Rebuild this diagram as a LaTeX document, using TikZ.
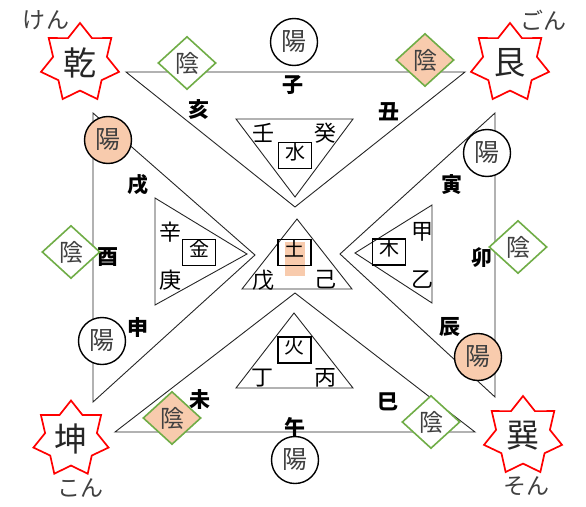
\documentclass[tikz,border=0pt]{standalone}
\usepackage{fontspec}
\setmainfont{Noto Sans CJK JP}
\usetikzlibrary{shapes.geometric}
\definecolor{peach}{HTML}{F8CBAD}
\definecolor{grn}{HTML}{70AD47}
\definecolor{txtgray}{HTML}{404040}
\tikzset{
  tri/.style={draw=black!85, line width=0.9pt, line join=miter},
  yang/.style={circle, draw=black, line width=1.4pt, minimum size=47pt, inner sep=0pt, fill=white, font=\fontsize{25}{25}\selectfont, text=txtgray},
  yin/.style={diamond, draw=grn, line width=1.6pt, minimum width=58pt, minimum height=53pt, inner sep=-3pt, fill=white, font=\fontsize{24}{24}\selectfont, text=txtgray},
  trig/.style={star, star points=7, star point ratio=1.45, draw=red, line width=1.7pt, fill=white, minimum size=80pt, inner sep=-3pt, font=\fontsize{33}{33}\selectfont, text=black!85},
  branch/.style={font=\bfseries\fontsize{21}{21}\selectfont, inner sep=0pt},
  stem/.style={font=\fontsize{22}{22}\selectfont, inner sep=0pt},
  elem/.style={draw=black, line width=1.2pt, minimum width=33pt, minimum height=26pt, inner sep=0pt, text height=0.86em, text depth=0.1em, font=\fontsize{20}{20}\selectfont},
  kana/.style={font=\fontsize{23}{23}\selectfont, text=txtgray, inner sep=0pt}
}
\begin{document}
\begin{tikzpicture}[x=1pt,y=-1pt]
\useasboundingbox (0,0) rectangle (586,506);
% big triangles
\draw[tri] (126,72) -- (465,72) -- (295,207) -- cycle;
\draw[tri] (115,432) -- (475,432) -- (295,293) -- cycle;
\draw[tri] (93,113) -- (93,402) -- (255,255) -- cycle;
\draw[tri] (495,113) -- (495,397) -- (340,254) -- cycle;
% inner triangles
\draw[tri] (236,119) -- (353,119) -- (295,197) -- cycle;
\draw[tri] (297,219) -- (242,289) -- (352,289) -- cycle;
\draw[tri] (294,313) -- (236,388) -- (353,388) -- cycle;
\draw[tri] (155,198) -- (155,305) -- (247,254) -- cycle;
\draw[tri] (432,205) -- (432,303) -- (355,253) -- cycle;
% earth highlight
\fill[peach] (285,242) rectangle (305,276);
% element boxes
\node[elem] (water) at (295,155.5) {水};
\node[elem] (metal) at (199,252.5) {金};
\node[elem] (earth) at (294.5,252.5) {土};
\node[elem] (wood)  at (389,252) {木};
\node[elem] (fire)  at (294.5,350) {火};
% stems
\node[stem] (ren)  at (263,133) {壬};
\node[stem] (gui)  at (325,133) {癸};
\node[stem] (xin)  at (170,232) {辛};
\node[stem] (geng) at (170,280) {庚};
\node[stem] (jia)  at (422,232) {甲};
\node[stem] (yi)   at (422,280) {乙};
\node[stem] (wu)   at (263,280) {戊};
\node[stem] (ji)   at (325,280) {己};
\node[stem] (ding) at (262,378) {丁};
\node[stem] (bing) at (325,378) {丙};
% branches
\node[branch] (zi)   at (293,85)  {子};
\node[branch] (hai)  at (199,110) {亥};
\node[branch] (chou) at (389,112) {丑};
\node[branch] (xu)   at (138,185) {戌};
\node[branch] (you)  at (108,257) {酉};
\node[branch] (shen) at (138,328) {申};
\node[branch] (yin)  at (452,185) {寅};
\node[branch] (mao)  at (482,258) {卯};
\node[branch] (chen) at (450,327) {辰};
\node[branch] (wei)  at (200,400) {未};
\node[branch] (wu2)  at (295,427) {午};
\node[branch] (si)   at (388,402) {巳};
% yang circles
\node[yang] (y1) at (294,42) {陽};
\node[yang, fill=peach] (y2) at (108,140) {陽};
\node[yang] (y3) at (102,341) {陽};
\node[yang] (y4) at (487,153) {陽};
\node[yang, fill=peach] (y5) at (478,357) {陽};
\node[yang] (y6) at (295,460) {陽};
% yin diamonds
\node[yin] (d1) at (187,63) {陰};
\node[yin, fill=peach] (d2) at (425,60) {陰};
\node[yin] (d3) at (71,252) {陰};
\node[yin] (d4) at (518,247) {陰};
\node[yin, fill=peach] (d5) at (172,418) {陰};
\node[yin] (d6) at (431,422) {陰};
% trigram stars
\node[trig] (qian) at (80,63) {乾};
\node[trig] (gen)  at (510,63) {艮};
\node[trig, minimum size=77pt] (kun) at (71,439) {坤};
\node[trig] (xun)  at (523,436) {巽};
% readings
\node[kana] (k1) at (46,20) {けん};
\node[kana] (k2) at (543,20) {ごん};
\node[kana] (k3) at (80,488) {こん};
\node[kana] (k4) at (526,486) {そん};
\end{tikzpicture}
\end{document}
